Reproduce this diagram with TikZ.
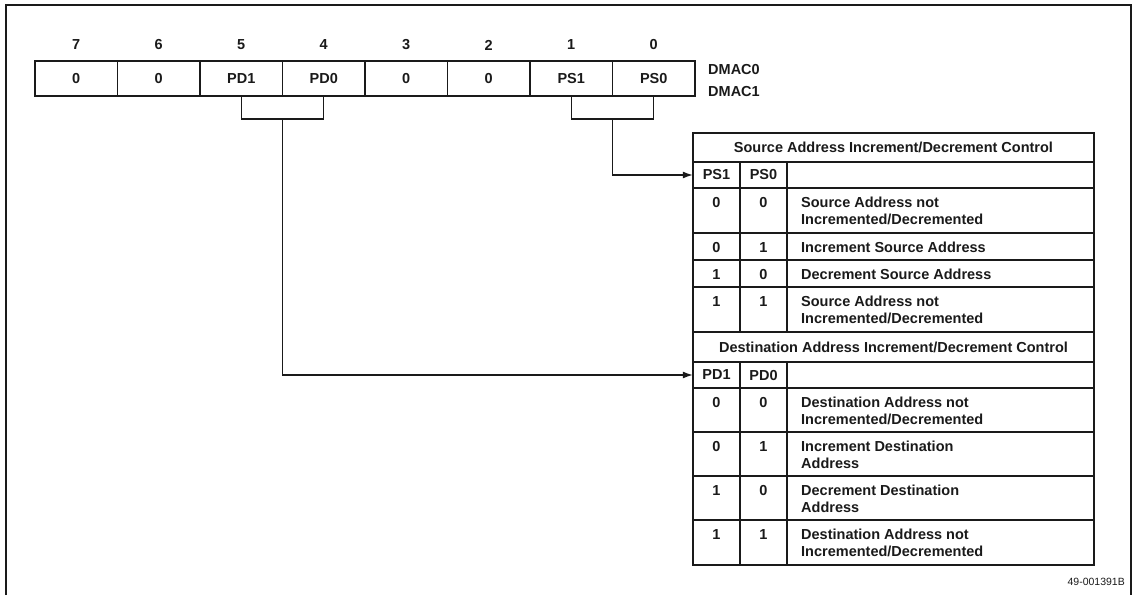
\documentclass[tikz,border=0pt]{standalone}
\usepackage{fontspec}
\setmainfont{Liberation Sans}
\usetikzlibrary{arrows.meta,calc}
\definecolor{inkblack}{HTML}{1A1A1A}
\tikzset{
  >=Latex,
  regcell/.style={
    rectangle, draw=inkblack, line width=1.8pt,
    minimum width=82.5pt, minimum height=35pt, inner sep=0pt,
    font=\bfseries\fontsize{14.5}{16.5}\selectfont, text=inkblack
  },
  bitnum/.style={inner sep=0pt, font=\bfseries\fontsize{14.5}{16.5}\selectfont, text=inkblack},
  regname/.style={anchor=west, inner sep=0pt, font=\bfseries\fontsize{14.5}{16.5}\selectfont, text=inkblack},
  headcell/.style={
    rectangle, inner sep=0pt, minimum width=47pt, minimum height=26pt,
    font=\bfseries\fontsize{14.5}{16.5}\selectfont, text=inkblack
  },
  tabtitle/.style={inner sep=0pt, font=\bfseries\fontsize{14.5}{16.5}\selectfont, text=inkblack},
  bitval/.style={anchor=north, inner sep=0pt, font=\bfseries\fontsize{14.5}{16.5}\selectfont, text=inkblack},
  desc/.style={anchor=north west, align=left, inner sep=0pt, font=\bfseries\fontsize{14.5}{16.5}\selectfont, text=inkblack},
  figid/.style={anchor=east, inner sep=0pt, font=\fontsize{10.5}{12}\selectfont, text=inkblack},
  grid/.style={line width=1.8pt, draw=inkblack},
  link/.style={line width=1.3pt, draw=inkblack},
  arrow/.style={link, -{Latex[length=10pt,width=7pt]}},
  frame/.style={line width=2pt, draw=inkblack}
}
\newcommand{\ctlrow}[5]{
  \node[bitval] (#1a) at (716.5,#2+9) {#3};
  \node[bitval] (#1b) at (763.5,#2+9) {#4};
  \node[desc] (#1t) at (801,#2+9) {#5};
}

\begin{document}
\begin{tikzpicture}[x=1pt,y=-1pt]
\useasboundingbox (0,0) rectangle (1137,595);
\draw[frame] (6,595) -- (6,5) -- (1131,5) -- (1131,595);
\foreach \lbl [count=\i from 0] in {0,0,PD1,PD0,0,0,PS1,PS0} {
  \pgfmathtruncatemacro\bitno{7-\i}
  \node[regcell] (reg\bitno) at (76.25+82.5*\i,78.5) {\lbl};
  \node[bitnum] (num\bitno) at (76.25+82.5*\i,45) {\bitno};
}
\node[regname] (dmac0) at (708,70) {DMAC0};
\node[regname] (dmac1) at (708,92) {DMAC1};
\draw[grid] (693,133) rectangle (1094,565);
\foreach \yy in {162,188,233,260,287,332,362,388,432,476,520}
  \draw[grid] (693,\yy) -- (1094,\yy);
\foreach \xx in {740,787} {
  \draw[grid] (\xx,162) -- (\xx,332);
  \draw[grid] (\xx,362) -- (\xx,565);
}
\node[tabtitle] (srctitle) at (893.5,147.5) {Source Address Increment/Decrement Control};
\node[headcell] (ps1) at (716.5,175) {PS1};
\node[headcell] (ps0) at (763.5,175) {PS0};
\ctlrow{sa}{188}{0}{0}{Source Address not\\Incremented/Decremented}
\ctlrow{sb}{233}{0}{1}{Increment Source Address}
\ctlrow{sc}{260}{1}{0}{Decrement Source Address}
\ctlrow{sd}{287}{1}{1}{Source Address not\\Incremented/Decremented}
\node[tabtitle] (dsttitle) at (893.5,347) {Destination Address Increment/Decrement Control};
\node[headcell] (pd1) at (716.5,375) {PD1};
\node[headcell] (pd0) at (763.5,375) {PD0};
\ctlrow{da}{388}{0}{0}{Destination Address not\\Incremented/Decremented}
\ctlrow{db}{432}{0}{1}{Increment Destination\\Address}
\ctlrow{dc}{476}{1}{0}{Decrement Destination\\Address}
\ctlrow{dd}{520}{1}{1}{Destination Address not\\Incremented/Decremented}
\coordinate (pdjoin) at ($(reg5.south)!0.5!(reg4.south)+(0,22)$);
\coordinate (psjoin) at ($(reg1.south)!0.5!(reg0.south)+(0,22)$);
\draw[link] (reg5.south) |- (pdjoin) -| (reg4.south);
\draw[link] (reg1.south) |- (psjoin) -| (reg0.south);
\draw[arrow] (pdjoin) |- (pd1.west);
\draw[arrow] (psjoin) |- (ps1.west);
\node[figid] (figno) at (1125,582) {49-001391B};
\end{tikzpicture}
\end{document}
